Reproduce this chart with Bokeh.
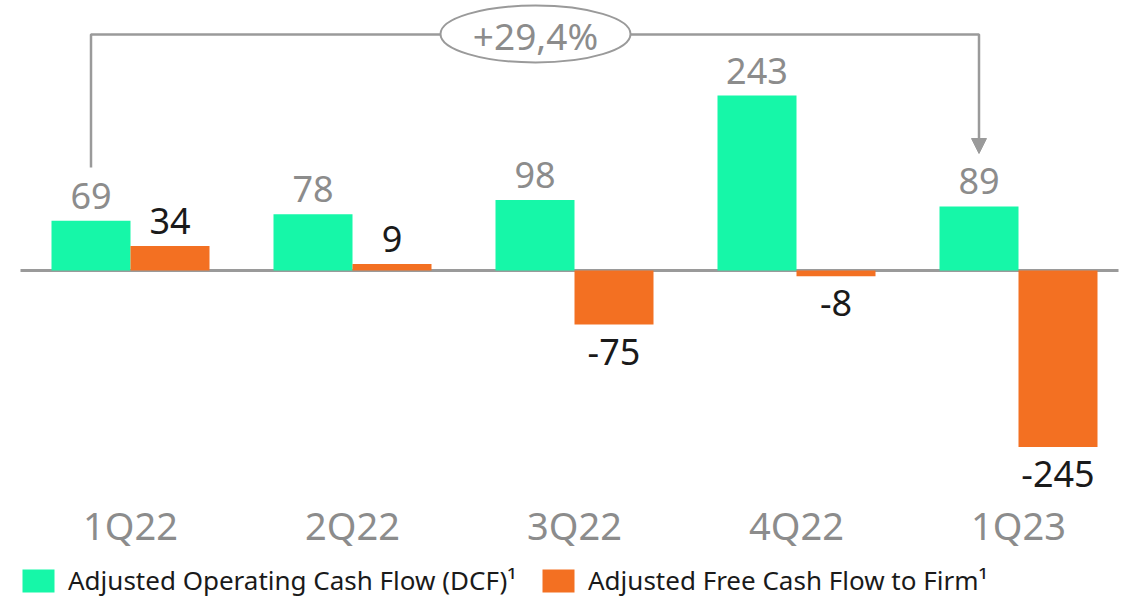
from bokeh.plotting import figure
from bokeh.models import Range1d, ColumnDataSource, Legend, LegendItem, Arrow, NormalHead
from bokeh.core.properties import value
from bokeh.embed import file_html
from bokeh.resources import INLINE

categories = ["1Q22", "2Q22", "3Q22", "4Q22", "1Q23"]
ocf = [69, 78, 98, 243, 89]
fcf = [34, 9, -75, -8, -245]
growth_label = "+29,4%"
series_names = ["Adjusted Operating Cash Flow (DCF)\u00b9", "Adjusted Free Cash Flow to Firm\u00b9"]

GREEN = "#16F7A8"
ORANGE = "#F37022"
GRAY = "#8C8C8C"
LINE = "#9A9A9A"
FONT = "Noto Sans"

W, H = 1135, 603
OFF = 0
PX_PER_CAT = 222.0
PX_PER_UNIT = 0.72
CAT0_SCREEN = 130.0
ZERO_SCREEN = 270.0
BASE_FIX = 0.33  # em fraction to lift alphabetic baseline

def sx(px):
    return (px - CAT0_SCREEN) / PX_PER_CAT

def sy(py):
    return (ZERO_SCREEN - py) / PX_PER_UNIT

p = figure(width=W, height=H, output_backend="svg", toolbar_location=None,
           x_range=Range1d(sx(OFF), sx(OFF + W)), y_range=Range1d(sy(OFF + H), sy(OFF)),
           min_border=0, outline_line_color=None)
p.axis.visible = False
p.grid.visible = False
p.background_fill_color = "white"
p.border_fill_color = "white"

bw = 79 / PX_PER_CAT
xs = list(range(len(categories)))
xg = [x - bw / 2 for x in xs]
xo = [x + bw / 2 for x in xs]

src = ColumnDataSource(dict(xg=xg, xo=xo, ocf=ocf, fcf=fcf, cat=categories, xc=xs,
                            ocf_lbl=[str(v) for v in ocf], fcf_lbl=[str(v) for v in fcf]))

# zero line
p.segment(x0=[sx(20)], y0=[0], x1=[sx(1118)], y1=[0], line_color=LINE, line_width=3)

rg = p.vbar(x="xg", top="ocf", bottom=0, width=bw, source=src, fill_color=GREEN, line_color=None)
ro = p.vbar(x="xo", top="fcf", bottom=0, width=bw, source=src, fill_color=ORANGE, line_color=None)

fix36 = round(36 * BASE_FIX)
# value labels
p.text(x="xg", y="ocf", text="ocf_lbl", source=src, text_align="center", text_baseline="alphabetic",
       y_offset=-13 - fix36, text_font=value(FONT), text_font_size="36px", text_color=GRAY)
pos_idx = [i for i, v in enumerate(fcf) if v >= 0]
neg_idx = [i for i, v in enumerate(fcf) if v < 0]
p.text(x=[xo[i] for i in pos_idx], y=[fcf[i] for i in pos_idx], text=[str(fcf[i]) for i in pos_idx],
       text_align="center", text_baseline="alphabetic", y_offset=-13 - fix36,
       text_font=value(FONT), text_font_size="36px", text_color="#1A1A1A")
p.text(x=[xo[i] for i in neg_idx], y=[fcf[i] for i in neg_idx], text=[str(fcf[i]) for i in neg_idx],
       text_align="center", text_baseline="alphabetic", y_offset=39 - fix36,
       text_font=value(FONT), text_font_size="36px", text_color="#1A1A1A")

# category labels
p.text(x="xc", y=sy(537), text="cat", source=src, text_align="center", text_baseline="alphabetic",
       y_offset=-round(38 * BASE_FIX),
       text_font=value(FONT), text_font_size="38px", text_color=GRAY)

# growth bracket
top_y = sy(34)
xl = xg[0]
xr = xg[-1]
p.line(x=[xl, xl, xr, xr], y=[sy(167), top_y, top_y, sy(145)], line_color=LINE, line_width=2.5)
p.add_layout(Arrow(end=NormalHead(size=15, fill_color=LINE, line_color=LINE),
                   x_start=xr, y_start=sy(140), x_end=xr, y_end=sy(153),
                   line_color=LINE, line_width=2.5))
p.ellipse(x=[sx(535)], y=[sy(33.5)], width=[190 / PX_PER_CAT], height=[57 / PX_PER_UNIT],
          fill_color="white", line_color=LINE, line_width=2)
p.text(x=[sx(535)], y=[sy(47)], text=[growth_label], text_align="center", text_baseline="alphabetic",
       y_offset=-round(37 * BASE_FIX),
       text_font=value(FONT), text_font_size="37px", text_color=GRAY)

# legends
for r, name, loc in [(rg, series_names[0], (18, 5)), (ro, series_names[1], (538, 5))]:
    lg = Legend(items=[LegendItem(label=name, renderers=[r])], location=loc,
                glyph_width=40, glyph_height=29, label_standoff=10,
                label_text_font=FONT, label_text_font_size="26px", label_text_color="#1A1A1A",
                padding=0, margin=0, border_line_color=None, background_fill_alpha=0,
                orientation="horizontal", label_height=29)
    p.add_layout(lg, "center")

open("out.html", "w").write(file_html(p, INLINE))
